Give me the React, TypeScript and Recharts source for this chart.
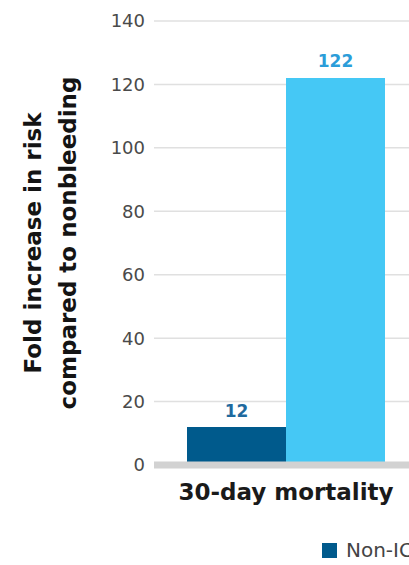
import React from 'react';
import { BarChart, Bar, XAxis, YAxis, CartesianGrid, Legend, LabelList } from 'recharts';

// Fold increase in risk vs. nonbleeding patients
const categories = ['30-day mortality'];
const nonIchBleeding = [12];
const ichBleeding = [122];
const seriesNames = ['Non-ICH bleeding', 'ICH'];
const yTicks = [0, 20, 40, 60, 80, 100, 120, 140];
const yAxisTitle = ['Fold increase in risk', 'compared to nonbleeding'];

const data = categories.map((category, i) => ({
  category,
  nonIch: nonIchBleeding[i],
  ich: ichBleeding[i],
}));

const FONT = '"DejaVu Sans", sans-serif';
const DARK = '#005a8c';
const LIGHT = '#45c8f5';

// Legend items kept in series order
const renderLegend = (props: any) => {
  const items = [...(props.payload || [])].sort(
    (a: any, b: any) => seriesNames.indexOf(a.value) - seriesNames.indexOf(b.value)
  );
  return (
    <div
      style={{
        display: 'flex',
        alignItems: 'center',
        whiteSpace: 'nowrap',
        fontFamily: FONT,
        fontSize: 20,
        color: '#444',
        lineHeight: '23px',
      }}
    >
      {items.map((it: any) => (
        <span key={it.value} style={{ display: 'inline-flex', alignItems: 'center', marginRight: 26 }}>
          <span
            style={{ width: 15, height: 15, background: it.color, display: 'inline-block', marginRight: 9 }}
          />
          {it.value}
        </span>
      ))}
    </div>
  );
};

const renderYTitle = () => (
  <text
    transform="rotate(-90, 41, 243)"
    x={41}
    y={243}
    textAnchor="middle"
    fontFamily={FONT}
    fontWeight="bold"
    fontSize={23}
    fill="#141414"
  >
    <tspan x={41} dy={0}>{yAxisTitle[0]}</tspan>
    <tspan x={41} dy={35}>{yAxisTitle[1]}</tspan>
  </text>
);

export default function App() {
  return (
    <div style={{ position: 'fixed', left: 0, top: 0, width: 409, height: 565, overflow: 'hidden', background: '#fff' }}>
      <BarChart
        width={418}
        height={565}
        data={data}
        margin={{ top: 21, right: 0, bottom: 0, left: 0 }}
        barGap={0}
        style={{ fontFamily: FONT }}
      >
        <CartesianGrid vertical={false} stroke="#e0e0e0" strokeWidth={1.5} />
        <YAxis
          width={154}
          domain={[0, 140]}
          ticks={yTicks}
          interval={0}
          axisLine={false}
          tickLine={false}
          tickMargin={3}
          tick={{ fontSize: 18, fill: '#4a4a4a', fontFamily: FONT }}
          label={{ content: renderYTitle }}
        />
        <Bar dataKey="nonIch" name={seriesNames[0]} fill={DARK} barSize={99} isAnimationActive={false}>
          <LabelList
            dataKey="nonIch"
            position="top"
            offset={10}
            style={{ fontSize: 17, fontWeight: 'bold', fill: '#1f6a9e', fontFamily: FONT }}
          />
        </Bar>
        <Bar dataKey="ich" name={seriesNames[1]} fill={LIGHT} barSize={99} isAnimationActive={false}>
          <LabelList
            dataKey="ich"
            position="top"
            offset={11}
            style={{ fontSize: 17, fontWeight: 'bold', fill: '#2b9dd9', fontFamily: FONT }}
          />
        </Bar>
        <XAxis
          dataKey="category"
          height={100}
          axisLine={{ stroke: '#d2d2d2', strokeWidth: 7 }}
          tickLine={false}
          tickMargin={13}
          tick={{ fontSize: 23, fontWeight: 'bold', fill: '#1a1a1a', fontFamily: FONT }}
        />
        <Legend
          layout="horizontal"
          verticalAlign="middle"
          align="center"
          content={renderLegend}
          wrapperStyle={{ top: 539, left: 322, width: 400 }}
        />
      </BarChart>
    </div>
  );
}
